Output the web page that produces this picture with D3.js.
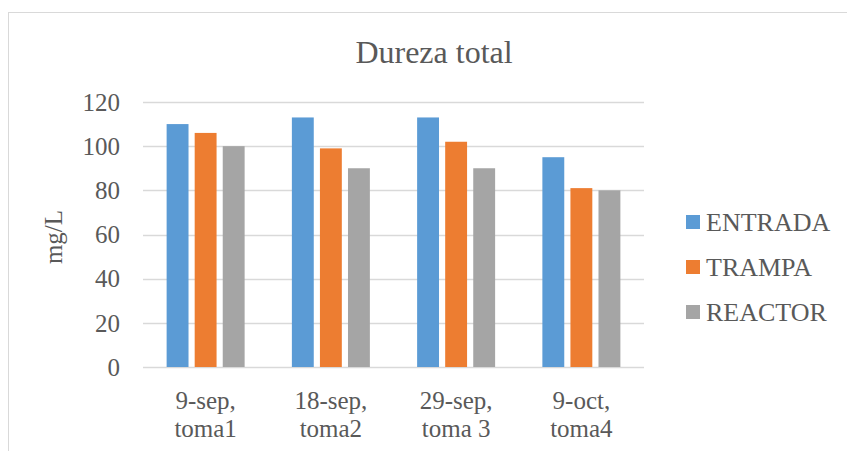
<!DOCTYPE html>
<html>
<head>
<meta charset="utf-8">
<script src="https://cdn.jsdelivr.net/npm/d3@7"></script>
<style>
  body { margin: 0; background: #fff; }
</style>
</head>
<body>
<div id="chart"></div>
<script>
// data
var categories = [["9-sep,", "toma1"], ["18-sep,", "toma2"], ["29-sep,", "toma 3"], ["9-oct,", "toma4"]];
var seriesNames = ["ENTRADA", "TRAMPA", "REACTOR"];
var seriesColors = ["#5b9bd5", "#ed7d31", "#a5a5a5"];
var entrada = [110, 113, 113, 95];
var trampa = [106, 99, 102, 81];
var reactor = [100, 90, 90, 80];
var yTicks = [0, 20, 40, 60, 80, 100, 120];

var values = [entrada, trampa, reactor];

var width = 847, height = 451;
var svg = d3.select("#chart").append("svg")
  .attr("width", width)
  .attr("height", height)
  .attr("font-family", "'Liberation Serif', 'Times New Roman', serif");

// chart area border
svg.append("rect")
  .attr("x", 8.5).attr("y", 12.5)
  .attr("width", 860).attr("height", 460)
  .attr("fill", "none")
  .attr("stroke", "#d9d9d9");

var plotLeft = 143, plotRight = 644, plotTop = 102, plotBottom = 367;

var x = d3.scaleBand()
  .domain(d3.range(categories.length))
  .range([plotLeft, plotRight]);

var xInner = d3.scaleBand()
  .domain(d3.range(seriesNames.length))
  .range([0, 78])
  .paddingInner(0.22);

var y = d3.scaleLinear().domain([0, 120]).range([plotBottom, plotTop]);

// gridlines
svg.append("g").selectAll("line")
  .data(yTicks)
  .enter().append("line")
  .attr("x1", plotLeft).attr("x2", plotRight)
  .attr("y1", function(d) { return Math.round(y(d)) + 0.5; })
  .attr("y2", function(d) { return Math.round(y(d)) + 0.5; })
  .attr("stroke", "#d9d9d9")
  .attr("stroke-width", 1.3);

// y tick labels
svg.append("g").selectAll("text")
  .data(yTicks)
  .enter().append("text")
  .attr("x", 120)
  .attr("y", function(d) { return y(d); })
  .attr("dy", "0.35em")
  .attr("text-anchor", "end")
  .attr("font-size", 25)
  .attr("fill", "#595959")
  .text(function(d) { return d; });

// bars
var groups = svg.append("g").selectAll("g")
  .data(categories)
  .enter().append("g")
  .attr("transform", function(d, i) {
    return "translate(" + (x(i) + x.bandwidth() / 2 - 39) + ",0)";
  });

groups.selectAll("rect")
  .data(function(d, i) { return values.map(function(s) { return s[i]; }); })
  .enter().append("rect")
  .attr("x", function(d, j) { return xInner(j); })
  .attr("width", xInner.bandwidth())
  .attr("y", function(d) { return y(d); })
  .attr("height", function(d) { return plotBottom - y(d); })
  .attr("fill", function(d, j) { return seriesColors[j]; });

// x category labels
var xl = svg.append("g").selectAll("text")
  .data(categories)
  .enter().append("text")
  .attr("x", function(d, i) { return x(i) + x.bandwidth() / 2; })
  .attr("y", 409)
  .attr("text-anchor", "middle")
  .attr("font-size", 25)
  .attr("fill", "#595959");
xl.append("tspan")
  .attr("x", function(d, i) { return x(i) + x.bandwidth() / 2; })
  .text(function(d) { return d[0]; });
xl.append("tspan")
  .attr("x", function(d, i) { return x(i) + x.bandwidth() / 2; })
  .attr("dy", 28)
  .text(function(d) { return d[1]; });

// title
svg.append("text")
  .attr("x", 434).attr("y", 63)
  .attr("text-anchor", "middle")
  .attr("font-size", 32)
  .attr("fill", "#595959")
  .text("Dureza total");

// y axis title
svg.append("text")
  .attr("transform", "translate(62,237) rotate(-90)")
  .attr("text-anchor", "middle")
  .attr("font-size", 25)
  .attr("fill", "#595959")
  .text("mg/L");

// legend
var legend = svg.append("g").selectAll("g")
  .data(seriesNames)
  .enter().append("g")
  .attr("transform", function(d, i) { return "translate(686," + (222 + i * 45) + ")"; });
legend.append("rect")
  .attr("x", 0).attr("y", -7)
  .attr("width", 14).attr("height", 14)
  .attr("fill", function(d, i) { return seriesColors[i]; });
legend.append("text")
  .attr("x", 20).attr("y", 0)
  .attr("dy", "0.35em")
  .attr("font-size", 26)
  .attr("fill", "#595959")
  .text(function(d) { return d; });
</script>
</body>
</html>
